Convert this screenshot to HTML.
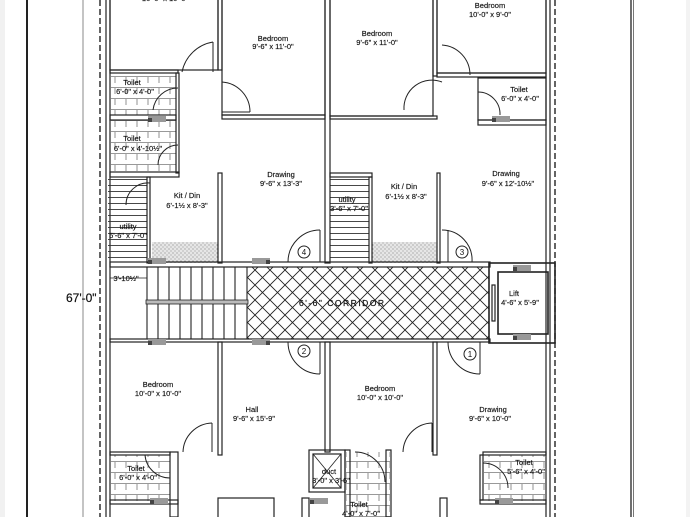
<!DOCTYPE html>
<html><head><meta charset="utf-8"><style>
html,body{margin:0;padding:0;background:#fff}
svg{display:block}
text{font-family:"Liberation Sans",sans-serif;fill:#111}
</style></head><body>
<svg width="690" height="517" viewBox="0 0 690 517" xmlns="http://www.w3.org/2000/svg">
<defs>
<pattern id="cross" width="15" height="15" patternUnits="userSpaceOnUse">
<path d="M0 0L15 15M15 0L0 15" stroke="#222" stroke-width="0.9"/>
</pattern>
<pattern id="tile" width="11" height="11" patternUnits="userSpaceOnUse">
<path d="M0 10.5H11M5 0V6" stroke="#777" stroke-width="0.8" fill="none"/>
</pattern>
<pattern id="steph" width="6" height="6" patternUnits="userSpaceOnUse">
<path d="M0 5.5H6" stroke="#333" stroke-width="0.9"/>
</pattern>
<pattern id="dots" width="4" height="4" patternUnits="userSpaceOnUse">
<rect width="4" height="4" fill="#e6e6e6"/><circle cx="1" cy="1" r="0.6" fill="#888"/><circle cx="3" cy="3" r="0.6" fill="#999"/>
</pattern>
</defs>
<rect x="0" y="0" width="5" height="517" fill="#f1f1f1"/>
<rect x="686" y="0" width="4" height="517" fill="#f3f3f3"/>
<g stroke="#222" fill="none">
<line x1="27" y1="0" x2="27" y2="517" stroke-width="2"/>
<line x1="83" y1="0" x2="83" y2="517" stroke="#888" stroke-width="1"/>
<line x1="100" y1="0" x2="100" y2="517" stroke-width="1.4" stroke-dasharray="6,3"/>
<line x1="555" y1="0" x2="555" y2="517" stroke-width="1.4" stroke-dasharray="6,3"/>
<line x1="631" y1="0" x2="631" y2="517" stroke-width="1.3"/>
<line x1="633.5" y1="0" x2="633.5" y2="517" stroke="#777" stroke-width="1"/>
<line x1="106" y1="0" x2="106" y2="517" stroke-width="1.2"/>
<line x1="110" y1="0" x2="110" y2="517" stroke-width="1.2"/>
<line x1="546" y1="0" x2="546" y2="517" stroke-width="1.2"/>
<line x1="550" y1="0" x2="550" y2="517" stroke-width="1.2"/>
</g>
<rect x="110" y="73" width="66" height="42" fill="url(#tile)"/>
<rect x="110" y="120" width="66" height="52" fill="url(#tile)"/>
<rect x="108" y="177" width="39" height="86" fill="url(#steph)"/>
<rect x="330" y="177" width="39" height="86" fill="url(#steph)"/>
<rect x="152" y="242" width="66" height="21" fill="url(#dots)"/>
<rect x="372" y="242" width="65" height="21" fill="url(#dots)"/>
<rect x="247" y="267" width="242" height="72" fill="url(#cross)"/>
<rect x="110" y="455" width="60" height="46" fill="url(#tile)"/>
<rect x="484" y="455" width="62" height="46" fill="url(#tile)"/>
<rect x="346" y="452" width="44" height="65" fill="url(#tile)"/>
<g stroke="#222" stroke-width="1.2" fill="none">
<rect x="110" y="-2" width="108" height="72"/>
<rect x="218" y="-2" width="4" height="72"/>
<rect x="110" y="70" width="68" height="3"/>
<rect x="176" y="73" width="3" height="100"/>
<rect x="110" y="115" width="66" height="5"/>
<rect x="110" y="172" width="69" height="5"/>
<rect x="222" y="-2" width="103" height="117"/>
<rect x="222" y="115" width="103" height="4"/>
<rect x="218" y="173" width="4" height="90"/>
<rect x="147" y="177" width="3" height="86"/>
<rect x="325" y="-2" width="5" height="265"/>
<rect x="330" y="-2" width="103" height="118"/>
<rect x="433" y="-2" width="4" height="78"/>
<rect x="330" y="116" width="107" height="3"/>
<rect x="437" y="-2" width="109" height="75"/>
<rect x="437" y="73" width="109" height="4"/>
<rect x="478" y="78" width="68" height="42"/>
<rect x="478" y="120" width="68" height="5"/>
<rect x="437" y="173" width="3" height="90"/>
<rect x="369" y="177" width="3" height="86"/>
<rect x="330" y="173" width="42" height="4"/>
<rect x="110" y="262" width="380" height="5"/>
<rect x="110" y="339" width="380" height="3"/>
<rect x="489" y="263" width="66" height="80" stroke-width="1.6"/>
<rect x="498" y="272" width="50" height="62" stroke-width="1.6"/>
<rect x="492" y="285" width="3" height="36"/>
<rect x="218" y="342" width="4" height="113"/>
<rect x="325" y="342" width="5" height="110"/>
<rect x="433" y="342" width="4" height="113"/>
<rect x="110" y="452" width="60" height="3"/>
<rect x="170" y="452" width="8" height="65"/>
<rect x="110" y="500" width="68" height="4"/>
<rect x="483" y="452" width="63" height="3"/>
<rect x="480" y="455" width="3" height="45"/>
<rect x="480" y="500" width="66" height="4"/>
<rect x="309" y="450" width="36" height="42"/>
<rect x="313" y="454" width="28" height="34"/>
<line x1="313" y1="454" x2="341" y2="488" stroke-width="0.8"/>
<line x1="341" y1="454" x2="313" y2="488" stroke-width="0.8"/>
<rect x="345" y="450" width="5" height="67"/>
<rect x="386" y="450" width="5" height="67"/>
<rect x="218" y="498" width="56" height="25"/>
<rect x="302" y="498" width="7" height="25"/>
<rect x="440" y="498" width="7" height="25"/>
</g>
<g stroke="#222" stroke-width="1.1">
<line x1="147" y1="267" x2="247" y2="267"/>
<line x1="147" y1="339" x2="247" y2="339"/>
<line x1="147" y1="267" x2="147" y2="339"/>
<line x1="158" y1="267" x2="158" y2="339"/>
<line x1="169" y1="267" x2="169" y2="339"/>
<line x1="180" y1="267" x2="180" y2="339"/>
<line x1="191" y1="267" x2="191" y2="339"/>
<line x1="202" y1="267" x2="202" y2="339"/>
<line x1="213" y1="267" x2="213" y2="339"/>
<line x1="224" y1="267" x2="224" y2="339"/>
<line x1="235" y1="267" x2="235" y2="339"/>
<line x1="247" y1="267" x2="247" y2="339"/>
</g>
<rect x="146" y="300" width="102" height="4" fill="#bbb" stroke="#222" stroke-width="0.8"/>
<line x1="110" y1="278" x2="147" y2="278" stroke="#222" stroke-width="0.8"/>
<g stroke="#222" stroke-width="1" fill="none">
<path d="M213 42 A38 38 0 0 0 182 72"/><line x1="213" y1="42" x2="213" y2="72"/>
<path d="M222 82 A30 30 0 0 1 250 112"/><line x1="222" y1="112" x2="250" y2="112"/>
<path d="M178 88 A25 25 0 0 0 153 110"/>
<path d="M178 145 A20 20 0 0 0 158 165"/>
<path d="M150 183 A22 22 0 0 0 126 205"/>
<path d="M320 230 A32 32 0 0 0 288 262"/><line x1="320" y1="230" x2="320" y2="262"/>
<path d="M442 230 A30 30 0 0 1 472 262"/><line x1="448" y1="230" x2="448" y2="262"/>
<path d="M442 82 A28 28 0 0 0 404 110"/>
<path d="M442 45 A30 30 0 0 1 470 75"/>
<path d="M478 92 A22 22 0 0 1 500 115"/>
<path d="M288 342 A32 32 0 0 0 320 374"/><line x1="320" y1="342" x2="320" y2="374"/>
<path d="M448 342 A32 32 0 0 0 480 374"/><line x1="480" y1="342" x2="480" y2="374"/>
<path d="M212 423 A30 30 0 0 0 183 452"/><line x1="212" y1="423" x2="212" y2="452"/>
<path d="M432 423 A30 30 0 0 0 403 452"/><line x1="432" y1="423" x2="432" y2="452"/>
<path d="M145 455 A25 25 0 0 0 170 478"/>
<path d="M355 452 A30 30 0 0 1 385 482"/>
<path d="M483 463 A25 25 0 0 1 508 488"/>
</g>
<g fill="none" stroke="#222" stroke-width="1">
<circle cx="304" cy="252" r="6"/><circle cx="462" cy="252" r="6"/>
<circle cx="304" cy="351" r="6"/><circle cx="470" cy="354" r="6"/>
</g>
<g font-size="8" text-anchor="middle">
<text x="304" y="255">4</text><text x="462" y="255">3</text>
<text x="304" y="354">2</text><text x="470" y="357">1</text>
</g>
<g fill="#444">
<rect x="148" y="116" width="18" height="6" fill="#999"/><rect x="148" y="118" width="4" height="4"/>
<rect x="148" y="258" width="18" height="6" fill="#999"/><rect x="148" y="260" width="4" height="4"/>
<rect x="252" y="258" width="18" height="6" fill="#999"/><rect x="266" y="260" width="4" height="4"/>
<rect x="148" y="339" width="18" height="6" fill="#999"/><rect x="148" y="341" width="4" height="4"/>
<rect x="252" y="339" width="18" height="6" fill="#999"/><rect x="266" y="341" width="4" height="4"/>
<rect x="492" y="116" width="18" height="6" fill="#999"/><rect x="492" y="118" width="4" height="4"/>
<rect x="513" y="265" width="18" height="6" fill="#999"/><rect x="513" y="267" width="4" height="4"/>
<rect x="513" y="334" width="18" height="6" fill="#999"/><rect x="513" y="336" width="4" height="4"/>
<rect x="150" y="498" width="18" height="6" fill="#999"/><rect x="150" y="500" width="4" height="4"/>
<rect x="310" y="498" width="18" height="6" fill="#999"/><rect x="310" y="500" width="4" height="4"/>
<rect x="495" y="498" width="18" height="6" fill="#999"/><rect x="495" y="500" width="4" height="4"/>
</g>
<g font-size="7.5" text-anchor="middle" stroke="#111" stroke-width="0.15">
<text x="165" y="1">10'-0" x 10'-0"</text>
<text x="273" y="41">Bedroom</text><text x="273" y="49">9'-6" x 11'-0"</text>
<text x="377" y="36">Bedroom</text><text x="377" y="45">9'-6" x 11'-0"</text>
<text x="490" y="8">Bedroom</text><text x="490" y="17">10'-0" x 9'-0"</text>
<text x="132" y="85">Toilet</text><text x="135" y="94">6'-0" x 4'-0"</text>
<text x="132" y="141">Toilet</text><text x="138" y="151">6'-0" x 4'-10½"</text>
<text x="519" y="92">Toilet</text><text x="520" y="101">6'-0" x 4'-0"</text>
<text x="281" y="177">Drawing</text><text x="281" y="186">9'-6" x 13'-3"</text>
<text x="506" y="176">Drawing</text><text x="508" y="186">9'-6" x 12'-10½"</text>
<text x="187" y="198">Kit / Din</text><text x="187" y="208">6'-1½ x 8'-3"</text>
<text x="404" y="189">Kit / Din</text><text x="406" y="199">6'-1½ x 8'-3"</text>
<text x="128" y="229">utility</text><text x="128" y="238">5'-6" x 7'-0"</text>
<text x="347" y="202">utility</text><text x="349" y="211">3'-6" x 7'-0"</text>
<text x="126" y="281">3'-10½"</text>
<text x="514" y="296">Lift</text><text x="520" y="305">4'-6" x 5'-9"</text>
<text x="158" y="387">Bedroom</text><text x="158" y="396">10'-0" x 10'-0"</text>
<text x="252" y="412">Hall</text><text x="254" y="421">9'-6" x 15'-9"</text>
<text x="380" y="391">Bedroom</text><text x="380" y="400">10'-0" x 10'-0"</text>
<text x="493" y="412">Drawing</text><text x="490" y="421">9'-6" x 10'-0"</text>
<text x="136" y="471">Toilet</text><text x="138" y="480">6'-0" x 4'-0"</text>
<text x="524" y="465">Toilet</text><text x="526" y="474">5'-6" x 4'-0"</text>
<text x="329" y="474">duct</text><text x="331" y="483">3'-0" x 3'-6"</text>
<text x="359" y="507">Toilet</text><text x="361" y="516">4'-0" x 7'-0"</text>
</g>
<text x="299" y="306" font-size="8.5" text-anchor="start" letter-spacing="1.5" stroke="#111" stroke-width="0.2">6'-6"  CORRIDOR</text>
<text x="66" y="302" font-size="12" text-anchor="start" stroke="#111" stroke-width="0.2">67'-0"</text>
</svg>
</body></html>
